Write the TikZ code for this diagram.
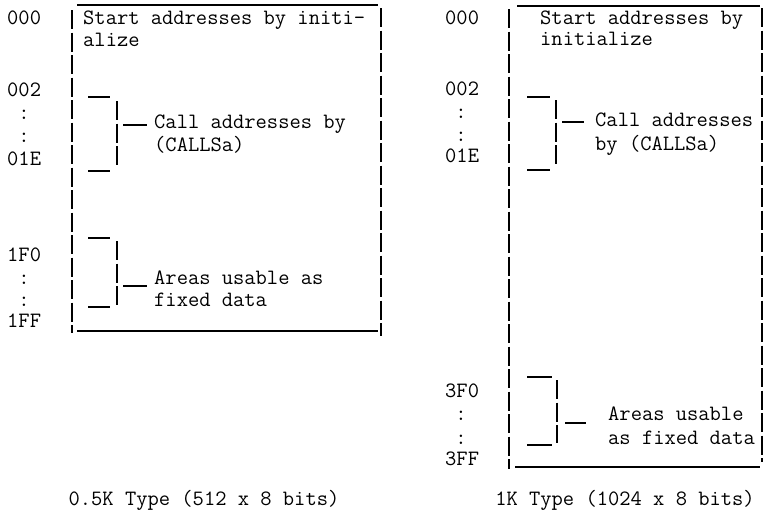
\documentclass[tikz,border=0pt]{standalone}
\usepackage{tikz}
\usetikzlibrary{positioning}

\begin{document}
\begin{tikzpicture}[x=1pt, y=-1pt,
    font=\fontsize{21.9}{22.5}\selectfont\ttfamily,
    addr/.style={anchor=base west, inner sep=0pt},
    dots/.style={anchor=base, inner sep=0pt},
    memtext/.style={anchor=base west, inner sep=0pt},
    rule/.style={line width=1.2pt},
    bar/.style={line width=1.2pt, dash pattern=on 19pt off 3.5pt}]
  \useasboundingbox (0,0) rectangle (765,515);

  % ---------- 0.5K type ----------
  % address column
  \foreach \lab/\yb/\nm in {000/24/la, 002/96/lb, 01E/165/lc, 1F0/261/ld, 1FF/327/le}
    \node[addr] (\nm) at (7,\yb) {\lab};
  \foreach \yb [count=\i] in {119,142,284,306}
    \node[dots] (lcol\i) at (24,\yb) {:};

  % outline
  \draw[rule] (77,5) -- (378,5);
  \draw[bar] (72,10) -- (72,333);
  \draw[bar] (381,8) -- (381,336);
  \draw[rule] (77,331) -- (378,331);

  % contents
  \node[memtext] (lstart) at (83,24) {Start addresses by initi-};
  \node[memtext] (lstart2) at (83,46) {alize};

  % call address area
  \draw[rule] (88,97) -- (110,97);
  \draw[rule] (88,171) -- (110,171);
  \draw[bar] (117,101) -- (117,168);
  \draw[rule] (123,125) -- (147,125);
  \node[memtext] (lcall) at (154,128) {Call addresses by};
  \node[memtext] (lcall2) at (154,151) {(CALLSa)};

  % fixed data area
  \draw[rule] (88,238) -- (110,238);
  \draw[rule] (88,307) -- (110,307);
  \draw[bar] (117,241) -- (117,305);
  \draw[rule] (123,286) -- (147,286);
  \node[memtext] (lfix) at (154,284) {Areas usable as};
  \node[memtext] (lfix2) at (154,306) {fixed data};

  \node[anchor=base, inner sep=0pt] (lcap) at (204,505) {0.5K Type (512 x 8 bits)};

  % ---------- 1K type ----------
  % address column
  \foreach \lab/\yb/\nm in {000/24/ra, 002/95/rb, 01E/162/rc, 3F0/397/rd, 3FF/465/re}
    \node[addr] (\nm) at (445,\yb) {\lab};
  \foreach \yb [count=\i] in {118,141,420,444}
    \node[dots] (rcol\i) at (461,\yb) {:};

  % outline
  \draw[rule] (517,6) -- (760,6);
  \draw[bar] (509,9) -- (509,469);
  \draw[bar] (762,8) -- (762,462);
  \draw[rule] (515,467) -- (760,467);

  % contents
  \node[memtext] (rstart) at (540,24) {Start addresses by};
  \node[memtext] (rstart2) at (540,45) {initialize};

  % call address area
  \draw[rule] (527,97) -- (550,97);
  \draw[rule] (527,170) -- (550,170);
  \draw[bar] (556,100) -- (556,166);
  \draw[rule] (562,122) -- (584,122);
  \node[memtext] (rcall) at (595,126) {Call addresses};
  \node[memtext] (rcall2) at (595,150) {by (CALLSa)};

  % fixed data area
  \draw[rule] (527,377) -- (552,377);
  \draw[rule] (527,445) -- (552,445);
  \draw[bar] (557,380) -- (557,443);
  \draw[rule] (565,423) -- (586,423);
  \node[memtext] (rfix) at (608,420) {Areas usable};
  \node[memtext] (rfix2) at (608,444) {as fixed data};

  \node[anchor=base, inner sep=0pt] (rcap) at (625,505) {1K Type (1024 x 8 bits)};
\end{tikzpicture}
\end{document}
